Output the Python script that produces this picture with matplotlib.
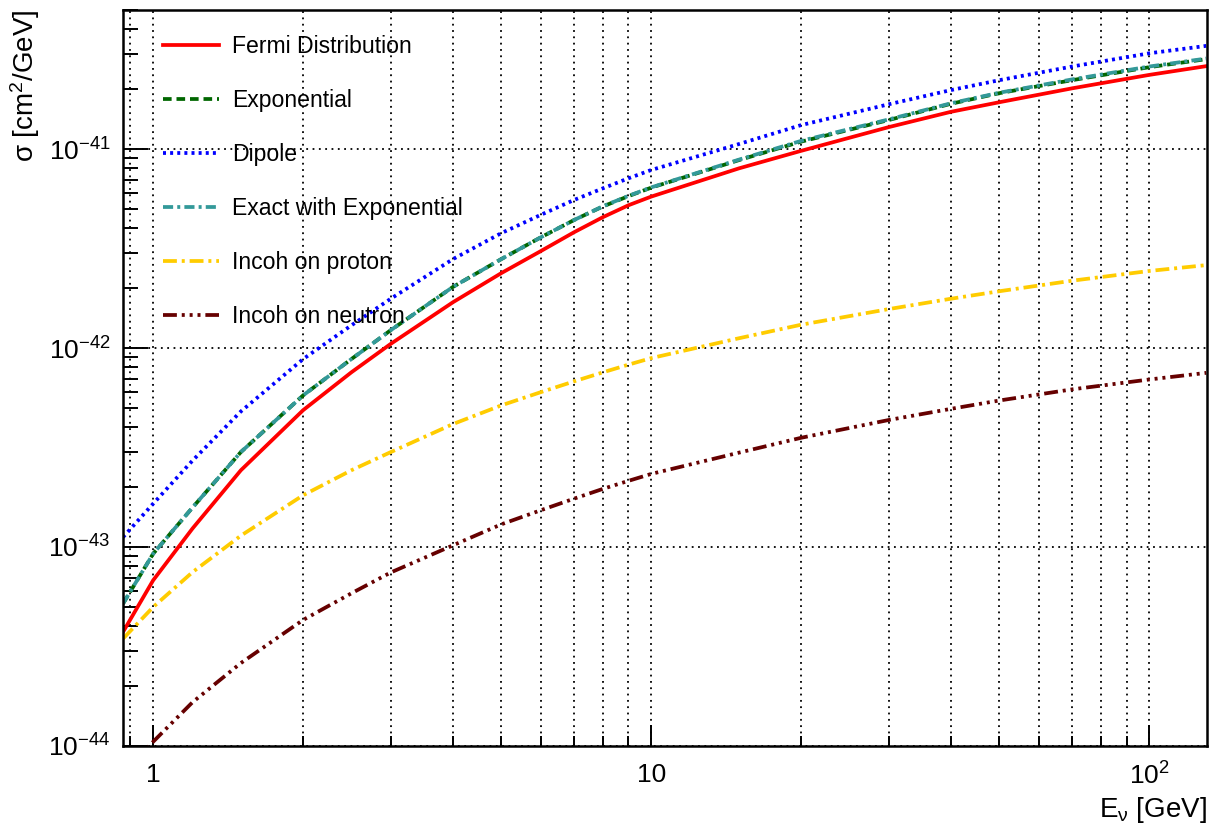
import numpy as np
import matplotlib
matplotlib.use("Agg")
import matplotlib.pyplot as plt
from matplotlib.ticker import LogLocator, FixedLocator, FuncFormatter, NullFormatter

# ========= DATA =========
energy = [0.87, 1, 1.2, 1.5, 2, 2.5, 3, 4, 5, 6, 7, 8, 9, 10,
          15, 20, 30, 40, 50, 70, 100, 130]

fermi = [3.74e-44, 6.8e-44, 1.24e-43, 2.43e-43, 4.87e-43, 7.55e-43, 1.05e-42,
         1.70e-42, 2.38e-42, 3.07e-42, 3.82e-42, 4.55e-42, 5.22e-42, 5.77e-42,
         8.0e-42, 9.8e-42, 1.29e-41, 1.54e-41, 1.72e-41, 2.02e-41, 2.36e-41, 2.61e-41]
exponential = [5.19e-44, 9.25e-44, 1.58e-43, 3.0e-43, 5.78e-43, 8.8e-43, 1.23e-42,
               2.03e-42, 2.8e-42, 3.6e-42, 4.4e-42, 5.15e-42, 5.8e-42, 6.4e-42,
               8.8e-42, 1.09e-41, 1.40e-41, 1.69e-41, 1.91e-41, 2.22e-41, 2.58e-41, 2.83e-41]
dipole = [1.12e-43, 1.65e-43, 2.72e-43, 4.8e-43, 8.8e-43, 1.30e-42, 1.77e-42,
          2.8e-42, 3.78e-42, 4.67e-42, 5.55e-42, 6.35e-42, 7.13e-42, 7.85e-42,
          1.06e-41, 1.32e-41, 1.68e-41, 1.98e-41, 2.22e-41, 2.60e-41, 3.03e-41, 3.30e-41]
exact_exp = [5.19e-44, 9.25e-44, 1.58e-43, 3.0e-43, 5.78e-43, 8.8e-43, 1.23e-42,
             2.03e-42, 2.8e-42, 3.6e-42, 4.4e-42, 5.16e-42, 5.82e-42, 6.42e-42,
             8.85e-42, 1.10e-41, 1.41e-41, 1.70e-41, 1.92e-41, 2.24e-41, 2.60e-41, 2.85e-41]
incoh_p = [3.46e-44, 4.99e-44, 7.48e-44, 1.14e-43, 1.82e-43, 2.43e-43, 3.0e-43,
           4.15e-43, 5.15e-43, 6.0e-43, 6.8e-43, 7.55e-43, 8.25e-43, 8.9e-43,
           1.12e-42, 1.31e-42, 1.57e-42, 1.77e-42, 1.93e-42, 2.18e-42, 2.44e-42, 2.61e-42]
incoh_n = [7.3e-45, 1.05e-44, 1.66e-44, 2.61e-44, 4.30e-44, 5.85e-44, 7.45e-44,
           1.02e-43, 1.30e-43, 1.53e-43, 1.75e-43, 1.96e-43, 2.15e-43, 2.33e-43,
           2.98e-43, 3.54e-43, 4.35e-43, 4.95e-43, 5.45e-43, 6.2e-43, 6.95e-43, 7.5e-43]

labels = ["Fermi Distribution", "Exponential", "Dipole",
          "Exact with Exponential", "Incoh on proton", "Incoh on neutron"]

x_major = [1, 10, 100]
y_major = [1e-44, 1e-43, 1e-42, 1e-41]
# ========================

plt.rcParams["font.family"] = ["Liberation Sans", "DejaVu Sans"]
plt.rcParams["mathtext.fontset"] = "custom"
plt.rcParams["mathtext.rm"] = "Liberation Sans"
plt.rcParams["mathtext.it"] = "Liberation Sans:italic"
plt.rcParams["mathtext.bf"] = "Liberation Sans:bold"

fig = plt.figure(figsize=(12.12, 8.25), dpi=100)
ax = fig.add_axes([0.1015, 0.0958, 0.8944, 0.8921])

lw = 2.7
series = [fermi, exponential, dipole, exact_exp, incoh_p, incoh_n]
styles = [
    dict(color="#ff0000", linestyle="-"),
    dict(color="#006600", linestyle=(0, (2.3, 1.3))),
    dict(color="#0000ff", linestyle=(0, (0.8, 1.1))),
    dict(color="#339999", linestyle=(0, (2.7, 1.1, 0.8, 1.1))),
    dict(color="#ffcc00", linestyle=(0, (3.7, 1.3, 0.8, 1.3))),
    dict(color="#660000", linestyle=(0, (3.7, 1.3, 0.8, 1.3, 0.8, 1.3, 0.8, 1.3))),
]
for ys, lab, st in zip(series, labels, styles):
    ax.plot(energy, ys, lw=lw, label=lab, **st)

ax.set_xscale("log")
ax.set_yscale("log")
ax.set_xlim(0.87, 130.5)
ax.set_ylim(1e-44, 5.0e-41)

ax.xaxis.set_major_locator(FixedLocator(x_major))
ax.yaxis.set_major_locator(FixedLocator(y_major))
ax.xaxis.set_minor_locator(LogLocator(base=10, subs=np.arange(2, 10)))
ax.yaxis.set_minor_locator(LogLocator(base=10, subs=np.arange(2, 10)))

# grid: x on major + minor, y on major only
ax.grid(True, which="both", axis="x", color="black", linestyle=(0, (1, 2.5)), lw=1.3)
ax.grid(True, which="major", axis="y", color="black", linestyle=(0, (1, 2.5)), lw=1.3)
ax.set_axisbelow(True)


def xfmt(v, pos):
    if abs(v - 1) < 1e-9:
        return "1"
    if abs(v - 10) < 1e-9:
        return "10"
    return r"$\mathregular{10^{%d}}$" % int(round(np.log10(v)))


def yfmt(v, pos):
    return r"$\mathregular{10^{%d}}$" % int(round(np.log10(v)))


ax.xaxis.set_major_formatter(FuncFormatter(xfmt))
ax.yaxis.set_major_formatter(FuncFormatter(yfmt))
ax.xaxis.set_minor_formatter(NullFormatter())
ax.yaxis.set_minor_formatter(NullFormatter())

ax.tick_params(axis="x", which="major", direction="in", length=15, width=1.4,
               labelsize=19, pad=12, top=False)
ax.tick_params(axis="x", which="minor", direction="in", length=7.5, width=1.4, top=False)
ax.tick_params(axis="y", which="major", direction="in", length=18, width=1.4,
               labelsize=19, pad=9, right=False)
ax.tick_params(axis="y", which="minor", direction="in", length=11, width=1.4, right=False)

for sp in ax.spines.values():
    sp.set_linewidth(1.8)

ax.set_ylabel(r"σ [cm$^{2}$/GeV]", fontsize=20, loc="top")
ax.yaxis.set_label_coords(-0.075, 1.0)
ax.set_xlabel(r"E$_{\mathrm{\nu}}$ [GeV]", fontsize=20, loc="right")
ax.xaxis.set_label_coords(1.0, -0.066)

ax.legend(loc="upper left", frameon=False, fontsize=16.6, handlelength=2.45,
          handletextpad=0.55, labelspacing=1.34, borderaxespad=0.0,
          bbox_to_anchor=(0.028, 0.978))

fig.savefig("out.png", dpi=100)
